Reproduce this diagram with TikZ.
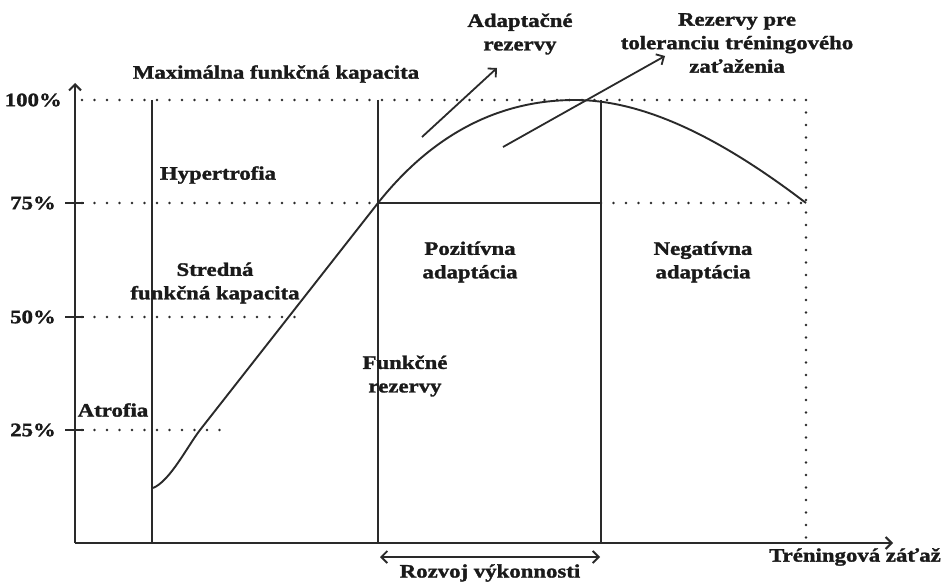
\documentclass[tikz,border=0pt]{standalone}
\usepackage{fontspec}
\setmainfont[FakeStretch=1.2, BoldFeatures={FakeBold=1.5}]{Liberation Serif}
\usetikzlibrary{arrows.meta}
\definecolor{ink}{HTML}{2a2a2a}
\definecolor{textink}{HTML}{1a1a1a}
\begin{document}
\begin{tikzpicture}[x=1pt,y=-1pt,
  lbl/.style={font=\fontsize{19}{23.5}\selectfont\bfseries, text=textink, inner sep=0pt, align=center},
  axisline/.style={draw=ink, line width=2pt},
  solidline/.style={draw=ink, line width=1.9pt},
  dotline/.style={draw=ink, line width=2.6pt, dash pattern=on 0pt off 12.5pt, line cap=round},
  barb/.style={draw=ink, line width=1.8pt, -{Straight Barb[length=6pt,width=12pt]}},
  dbarb/.style={draw=ink, line width=1.8pt, {Straight Barb[length=6pt,width=12pt]}-{Straight Barb[length=6pt,width=12pt]}}
]
\useasboundingbox[fill=white] (0,0) rectangle (944,583);

% key points
\coordinate (O) at (75,543);
\coordinate (Ytop) at (75,83);
\coordinate (Xend) at (893,543);
\coordinate (v1t) at (152,100); \coordinate (v1b) at (152,543);
\coordinate (v2t) at (378,100); \coordinate (v2b) at (378,543);
\coordinate (v3t) at (601,100); \coordinate (v3b) at (601,543);
\coordinate (v4t) at (806,100); \coordinate (v4b) at (806,543);
\coordinate (h100a) at (82,100);
\coordinate (h75a) at (82,203); \coordinate (h75b) at (378,203);
\coordinate (h75c) at (601,203); \coordinate (h75d) at (806,203);
\coordinate (h50a) at (82,317); \coordinate (h50b) at (300,317);
\coordinate (h25a) at (82,430); \coordinate (h25b) at (222,430);

% dotted guides
\draw[dotline] (h100a) -- (v4t);
\draw[dotline] (h75a) -- (h75b);
\draw[dotline] (h75c) -- (h75d);
\draw[dotline] (h50a) -- (h50b);
\draw[dotline] (h25a) -- (h25b);
\draw[dotline] (v4t) -- (v4b);

% ticks
\foreach \yy in {203,317,430} \draw[solidline] (65,\yy) -- (84,\yy);

% axes
\draw[axisline, -{Straight Barb[length=6pt,width=12pt]}] (O) -- (Ytop);
\draw[axisline, -{Straight Barb[length=6pt,width=12pt]}] (O) -- (Xend);

% verticals
\draw[solidline] (v1t) -- (v1b);
\draw[solidline] (v2t) -- (v2b);
\draw[solidline] (v3t) -- (v3b);
\draw[solidline] (h75b) -- (h75c);

% curve
\coordinate (c0) at (153,488);
\coordinate (c1) at (200,430);
\coordinate (cpk) at (575,100);
\draw[solidline] (c0) .. controls (170,481) and (187,447) .. (c1)
  -- (h75b) .. controls (440,125) and (510,100) .. (cpk)
  .. controls (650,100) and (730,145) .. (h75d);

% pointer arrows
\coordinate (a1s) at (422,137); \coordinate (a1e) at (497,68);
\coordinate (a2s) at (503,147); \coordinate (a2e) at (665,56);
\draw[barb] (a1s) -- (a1e);
\draw[barb] (a2s) -- (a2e);

% rozvoj arrow
\coordinate (r1) at (380,557); \coordinate (r2) at (600,557);
\draw[dbarb] (r1) -- (r2);

% labels
\node[lbl, anchor=east] (p100) at (62,100) {100\%};
\node[lbl, anchor=east] (p75) at (56,203) {75\%};
\node[lbl, anchor=east] (p50) at (56,317) {50\%};
\node[lbl, anchor=east] (p25) at (56,430) {25\%};

\node[lbl] (maxk) at (276,74) {Maximálna funkčná kapacita};
\node[lbl] (adapt) at (520,34) {Adaptačné\\rezervy};
\node[lbl] (rez) at (737,43) {Rezervy pre\\toleranciu tréningového\\zaťaženia};
\node[lbl] (hyper) at (218,175) {Hypertrofia};
\node[lbl] (stred) at (215,283) {Stredná\\funkčná kapacita};
\node[lbl] (atro) at (113,410) {Atrofia};
\node[lbl] (funk) at (405,376) {Funkčné\\rezervy};
\node[lbl] (poz) at (470,262) {Pozitívna\\adaptácia};
\node[lbl] (neg) at (703,262) {Negatívna\\adaptácia};
\node[lbl] (rozv) at (490,573) {Rozvoj výkonnosti};
\node[lbl, anchor=east] (tren) at (941,557) {Tréningová záťaž};
\end{tikzpicture}
\end{document}
